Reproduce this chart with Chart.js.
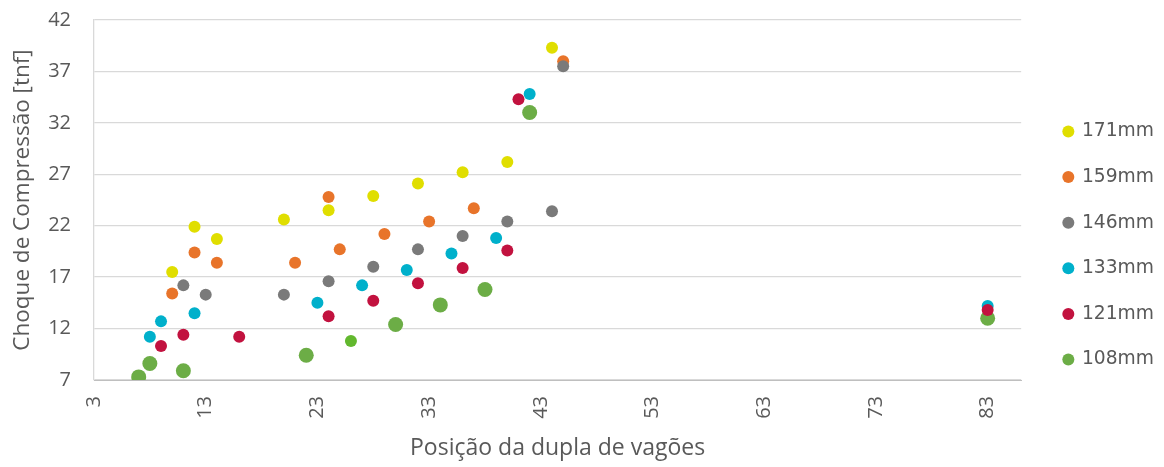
<!DOCTYPE html>
<html><head><meta charset="utf-8">
<script src="https://cdn.jsdelivr.net/npm/chart.js@4/dist/chart.umd.min.js"></script>
<style>html,body{margin:0;padding:0;background:#fff}#wrap{width:1164px;height:467px;position:relative}</style>
</head><body><div id="wrap"><canvas id="c"></canvas></div>
<script>
const seriesNames = ['171mm','159mm','146mm','133mm','121mm','108mm'];
const x171 = [10,12,14,20,24,28,32,36,40,44];
const y171 = [17.5,21.9,20.7,22.6,23.5,24.9,26.1,27.2,28.2,39.3];
const x159 = [10,12,14,21,24,25,29,33,37,45];
const y159 = [15.4,19.4,18.4,18.4,24.8,19.7,21.2,22.4,23.7,38.0];
const x146 = [11,13,20,24,28,32,36,40,44,45];
const y146 = [16.2,15.3,15.3,16.6,18.0,19.7,21.0,22.4,23.4,37.5];
const x133 = [8,9,12,23,27,31,35,39,42,83];
const y133 = [11.2,12.7,13.5,14.5,16.2,17.7,19.3,20.8,34.8,14.2];
const x121 = [9,11,16,24,28,32,36,40,41,83];
const y121 = [10.3,11.4,11.2,13.2,14.7,16.4,17.9,19.6,34.3,13.8];
const x108 = [7,8,11,22,26,30,34,38,42,83];
const y108 = [7.3,8.6,7.9,9.4,10.8,12.4,14.3,15.8,33.0,13.0];
const xTicks = [3,13,23,33,43,53,63,73,83];
const yTicks = [7,12,17,22,27,32,37,42];

const colors = ['#e0de00','#e8742a','#7a7a7a','#00b0cb','#c2123f','#6cad46'];
const drawOrder = [6,5,4,3,1,7];
const xs = [x171,x159,x146,x133,x121,x108];
const ys = [y171,y159,y146,y133,y121,y108];
const pts = (a,b) => a.map((x,i)=>({x:x, y:b[i]}));

const datasets = seriesNames.map((name,k)=>({
  label: name,
  data: pts(xs[k], ys[k]),
  order: drawOrder[k],
  backgroundColor: colors[k],
  borderColor: colors[k],
  borderWidth: 0,
  pointRadius: k===5 ? (c => c.dataIndex===4 ? 6 : 7.5) : 6,
  pointHoverRadius: k===5 ? (c => c.dataIndex===4 ? 6 : 7.5) : 6,
  pointBackgroundColor: k===5 ? (c => c.dataIndex===4 ? '#62b82e' : colors[5]) : colors[k]
}));

const txt = '#595959';
new Chart(document.getElementById('c'), {
  type: 'scatter',
  data: { datasets },
  options: {
    responsive: true, maintainAspectRatio: false, animation: false,
    layout: { padding: { top: 6, left: 0, right: 0, bottom: 0 } },
    plugins: {
      tooltip: { enabled: false },
      legend: {
        position: 'right',
        title: { display: true, text: '', font: { size: 10 }, padding: 3 },
        labels: {
          usePointStyle: true, pointStyle: 'circle',
          boxWidth: 8.5, boxHeight: 8.5, padding: 26.9,
          color: txt, font: { family: 'DejaVu Sans', size: 18.7 },
          sort: (a,b) => a.datasetIndex - b.datasetIndex
        }
      }
    },
    scales: {
      x: {
        type: 'linear', min: 3, max: 86,
        afterBuildTicks: s => { s.ticks = xTicks.map(v => ({ value: v })); },
        afterFit: s => { s.height = 87; },
        grid: { display: false, drawTicks: false },
        border: { display: true, color: '#bfbfbf', width: 1 },
        ticks: { autoSkip: false, minRotation: 90, maxRotation: 90, padding: 16, color: txt,
                 font: { family: 'Open Sans', size: 20 } },
        title: { display: true, text: 'Posição da dupla de vagões', color: txt,
                 font: { family: 'Open Sans', size: 23 }, padding: { top: 16, bottom: 5 } }
      },
      y: {
        type: 'linear', min: 7, max: 42,
        afterBuildTicks: s => { s.ticks = yTicks.map(v => ({ value: v })); },
        afterFit: s => { s.width = 94; s.paddingTop = 20; },
        grid: { color: '#d9d9d9', lineWidth: 1.3, drawTicks: false },
        border: { display: true, color: '#d9d9d9', width: 1.3 },
        ticks: { padding: 23, color: txt, font: { family: 'Open Sans', size: 20 } },
        title: { display: true, text: 'Choque de Compressão [tnf]', color: txt,
                 font: { family: 'Open Sans', size: 22.5 }, padding: { top: 9.5, bottom: 5 } }
      },
      gap: {
        type: 'linear', position: 'right', display: true,
        grid: { display: false, drawTicks: false }, border: { display: false },
        ticks: { display: false },
        afterFit: s => { s.width = 16; }
      }
    }
  }
});
</script>
</body></html>
